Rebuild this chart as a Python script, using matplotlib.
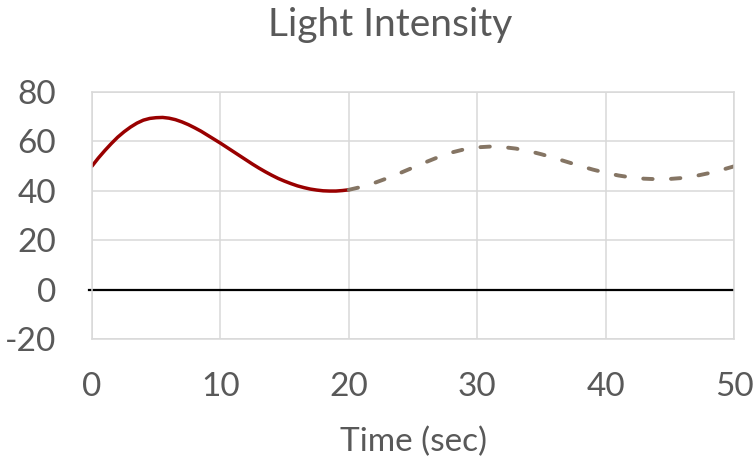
import matplotlib
matplotlib.use("Agg")
import matplotlib.pyplot as plt

t_measured = [i * 0.5 for i in range(41)]
light_measured = [50.0, 53.3, 56.3, 59.1, 61.7, 63.9, 65.8, 67.4, 68.6, 69.3,
                  69.6, 69.7, 69.4, 68.8, 67.9, 66.8, 65.5, 64.1, 62.5, 60.9,
                  59.3, 57.6, 55.9, 54.2, 52.5, 50.8, 49.2, 47.7, 46.3, 45.0,
                  43.9, 42.9, 42.0, 41.3, 40.7, 40.3, 40.0, 39.9, 39.9, 40.1,
                  40.4]

# predicted part every second
t_predicted = list(range(20, 51))
light_predicted = [40.4, 41.6, 43.2, 45.1, 47.2, 49.4, 51.6, 53.7, 55.5, 56.8,
                   57.6, 57.9, 57.7, 57.1, 56.1, 54.8, 53.3, 51.7, 50.1, 48.6,
                   47.3, 46.2, 45.4, 44.9, 44.7, 44.8, 45.2, 46.0, 47.1, 48.4,
                   49.9]

x_ticks = [0, 10, 20, 30, 40, 50]
y_ticks = [-20, 0, 20, 40, 60, 80]

plt.rcParams['font.family'] = ['Lato', 'DejaVu Sans']
plt.rcParams['axes.unicode_minus'] = False
plt.rcParams['lines.scale_dashes'] = False
text_grey = '#595959'

W, H = 755, 457
fig = plt.figure(figsize=(W / 100, H / 100), dpi=100)
ax = fig.add_axes([92 / W, 1 - 339 / H, (734 - 92) / W, (339 - 92) / H])

# grid
ax.set_xlim(0, 50)
ax.set_ylim(-20, 80)
ax.set_xticks(x_ticks)
ax.set_yticks(y_ticks)
ax.grid(True, color='#d9d9d9', linewidth=1.1)
ax.set_axisbelow(True)
for side in ax.spines.values():
    side.set_color('#d9d9d9')
    side.set_linewidth(1.1)
ax.tick_params(length=0, labelsize=24, labelcolor=text_grey)
ax.tick_params(axis='x', pad=24)
ax.tick_params(axis='y', pad=26)

# zero line
ax.plot([-0.25, 49.9], [0, 0], color='black', linewidth=1.6, clip_on=False)

# curves
ax.plot(t_measured, light_measured, color='#990000', linewidth=2.5,
        solid_capstyle='round', solid_joinstyle='round')
ax.plot(t_predicted, light_predicted, color='#857564', linewidth=2.8,
        linestyle=(0, (6.8, 13.2)), dash_capstyle='round')

fig.text(390 / W, 1 - 36 / H, 'Light Intensity', fontsize=28,
         color=text_grey, ha='center', va='baseline')
fig.text(413 / W, 1 - 451 / H, 'Time (sec)', fontsize=24,
         color=text_grey, ha='center', va='baseline')

fig.savefig('out.png', dpi=100)
